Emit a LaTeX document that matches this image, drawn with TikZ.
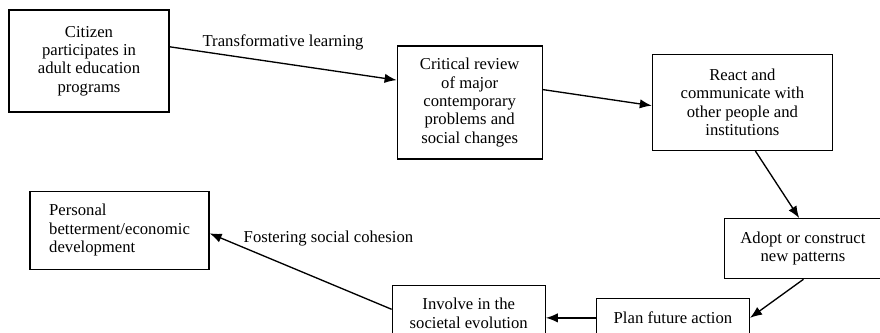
\documentclass[tikz,border=0pt]{standalone}
\usepackage{fontspec}
\setmainfont{Liberation Serif}
\usetikzlibrary{arrows.meta, positioning}

\begin{document}
\begin{tikzpicture}[
  node distance=1cm,
  box/.style={draw, line width=0.9pt, align=center, inner sep=2pt, font=\fontsize{12.5pt}{13.8pt}\selectfont},
  lbl/.style={font=\fontsize{12.5pt}{13.8pt}\selectfont},
  arrow/.style={-{Latex[length=9pt, width=7pt]}, line width=1pt}
]
\useasboundingbox (0,0) rectangle (660pt,-249pt);
\node[box, minimum width=120pt, minimum height=76.5pt] (citizen) at (66.75pt,-45.75pt) {Citizen\\participates in\\adult education\\programs};
\node[box, minimum width=108.75pt, minimum height=84.75pt, right=170.25pt of citizen, yshift=-31.1pt] (critical) {Critical review\\of major\\contemporary\\problems and\\social changes};
\node[box, minimum width=135pt, minimum height=72pt, right=81.75pt of critical] (react) {React and\\communicate with\\other people and\\institutions};
\node[box, minimum width=117.75pt, minimum height=45pt, below=50.25pt of react, xshift=45.4pt] (adopt) {Adopt or construct\\new patterns};
\node[box, minimum width=114.75pt, minimum height=28.5pt, below=14.25pt of adopt, xshift=-97.5pt] (plan) {Plan future action};
\node[box, minimum width=114.75pt, minimum height=41.25pt, left=37.5pt of plan, yshift=3.4pt] (involve) {Involve in the\\societal evolution};
\node[box, align=left, minimum width=134.25pt, minimum height=58.5pt, below=58.5pt of citizen, xshift=22.9pt] (personal) {Personal\\betterment/economic\\development};

\draw[arrow] (citizen.10) -- node[lbl, midway, yshift=15.75pt] (translbl) {Transformative learning} (critical.163);
\draw[arrow] (critical.10) -- (react.182);
\draw[arrow] (react.-75) -- (adopt.97);
\draw[arrow] (adopt.-89) -- (plan.east);
\draw[arrow] (plan.west) -- (plan.west -| involve.east);
\draw[arrow] (involve.177) -- node[lbl, pos=1, anchor=west, xshift=21.75pt, yshift=-3.75pt] (fosterlbl) {Fostering social cohesion} (personal.-2);
\end{tikzpicture}
\end{document}
